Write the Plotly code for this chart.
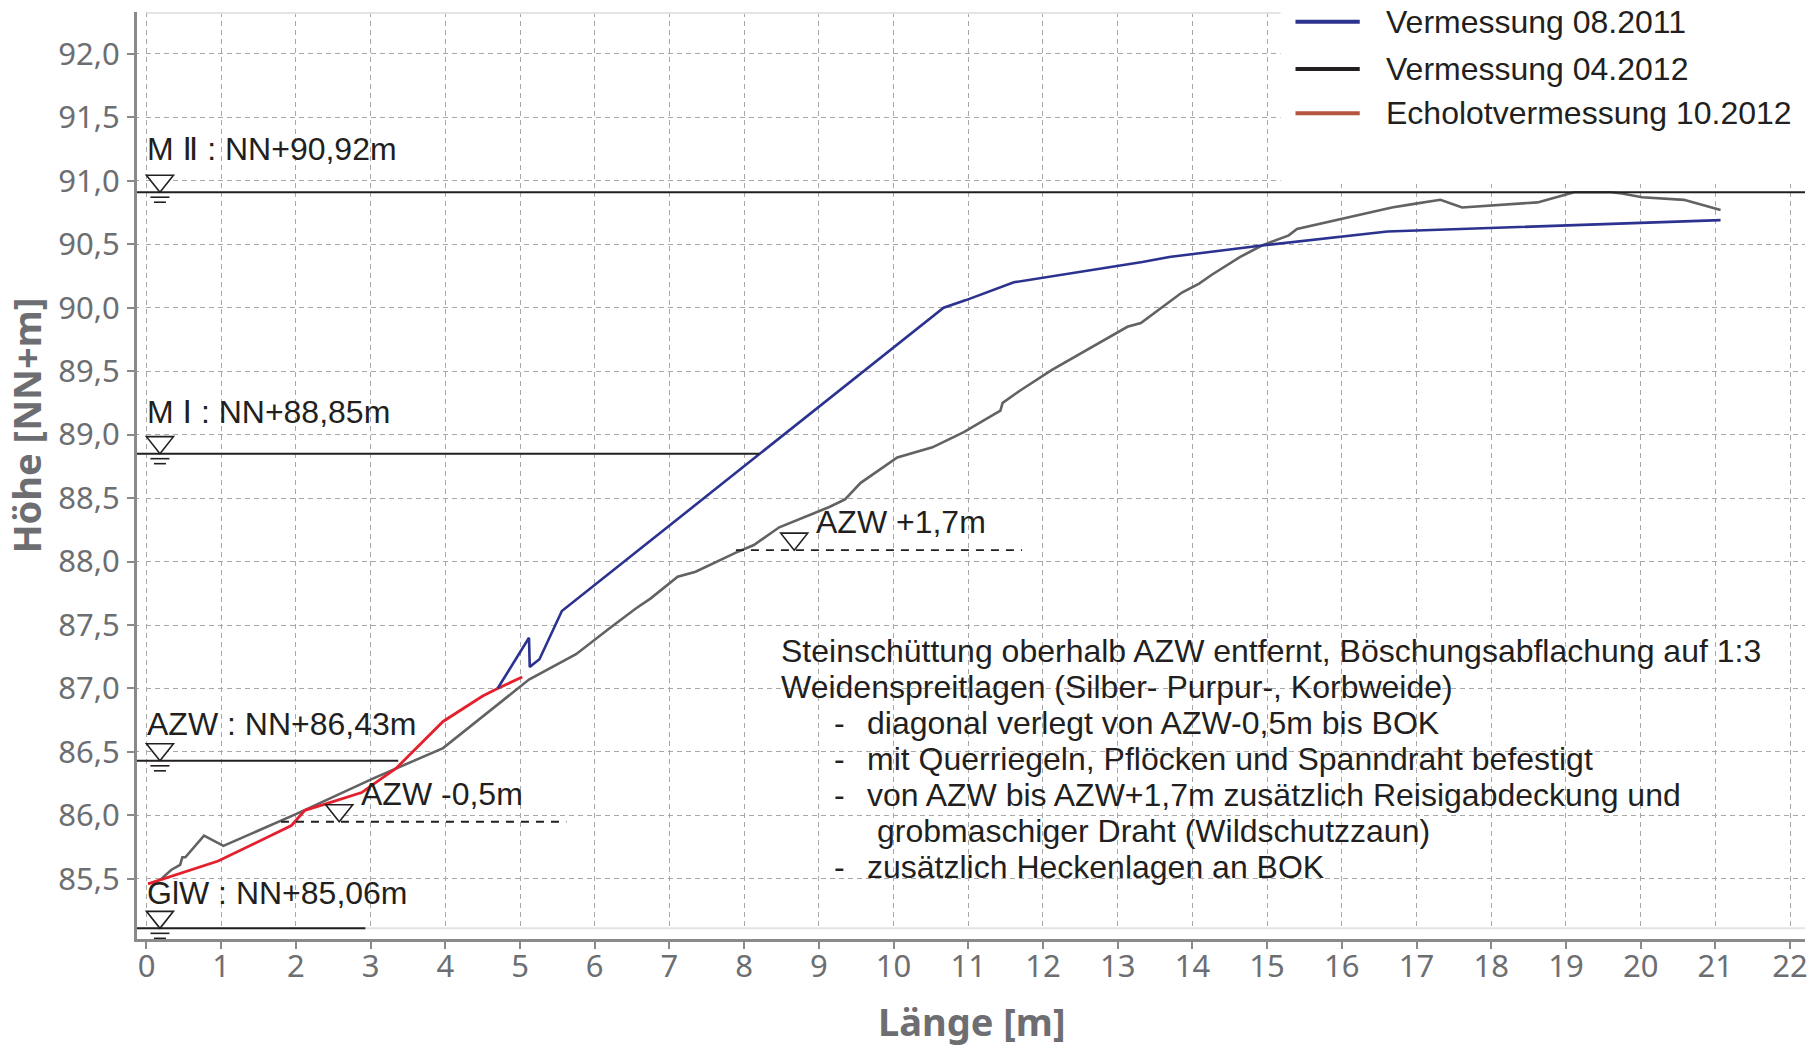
import plotly.graph_objects as go

# ---------------- data ----------------
x_2011 = [4.70, 5.12, 5.13, 5.26, 5.56, 10.67, 10.97, 11.61, 13.33, 13.69, 14.93, 15.82, 16.61, 21.07]
y_2011 = [87.00, 87.40, 87.17, 87.23, 87.61, 90.00, 90.06, 90.20, 90.36, 90.40, 90.49, 90.55, 90.60, 90.69]

x_2012 = [0.18, 0.33, 0.45, 0.48, 0.52, 0.77, 1.03, 2.00, 3.03, 3.97, 5.12, 5.75, 6.19, 6.55, 6.75,
          7.11, 7.35, 7.89, 8.13, 8.47, 9.14, 9.35, 9.56, 10.05, 10.52, 10.94, 11.43, 11.46, 11.70,
          12.12, 13.13, 13.31, 13.86, 14.09, 14.26, 14.64, 14.93, 15.29, 15.40, 16.00, 16.67, 16.99,
          17.32, 17.61, 18.15, 18.62, 19.11, 19.60, 19.75, 20.02, 20.58, 21.07]
y_2012 = [85.49, 85.57, 85.61, 85.67, 85.67, 85.84, 85.76, 86.01, 86.29, 86.53, 87.07, 87.27, 87.47, 87.63, 87.71,
          87.88, 87.92, 88.07, 88.13, 88.27, 88.43, 88.49, 88.62, 88.82, 88.90, 89.02, 89.19, 89.25, 89.35,
          89.51, 89.85, 89.88, 90.12, 90.19, 90.26, 90.40, 90.49, 90.57, 90.62, 90.70, 90.79, 90.82,
          90.85, 90.79, 90.81, 90.83, 90.91, 90.91, 90.90, 90.87, 90.85, 90.77]

x_echo = [0.02, 0.96, 1.94, 2.12, 2.40, 2.88, 3.12, 3.34, 3.97, 4.50, 4.70, 5.03]
y_echo = [85.46, 85.64, 85.92, 86.04, 86.09, 86.18, 86.28, 86.37, 86.74, 86.94, 87.00, 87.09]

series_names = ["Vermessung 08.2011", "Vermessung 04.2012", "Echolotvermessung 10.2012"]

x_ticks = list(range(0, 23))
x_ticktext = [str(v) for v in x_ticks]
y_ticks = [85.5, 86.0, 86.5, 87.0, 87.5, 88.0, 88.5, 89.0, 89.5, 90.0, 90.5, 91.0, 91.5, 92.0]
y_ticktext = ["85,5", "86,0", "86,5", "87,0", "87,5", "88,0", "88,5", "89,0", "89,5", "90,0",
              "90,5", "91,0", "91,5", "92,0"]

level_labels = ["M Ⅱ : NN+90,92m", "M Ⅰ : NN+88,85m", "AZW : NN+86,43m", "GlW : NN+85,06m"]
level_values = [90.91, 88.85, 86.43, 85.11]
level_ends = [22.2, 8.2, 3.37, 2.93]

offset_labels = ["AZW -0,5m", "AZW +1,7m"]
offset_values = [85.95, 88.09]
offset_starts = [1.80, 7.89]
offset_ends = [5.62, 11.72]

note_lines = [
    "Steinschüttung oberhalb AZW entfernt, Böschungsabflachung auf 1:3",
    "Weidenspreitlagen (Silber- Purpur-, Korbweide)",
    "diagonal verlegt von AZW-0,5m bis BOK",
    "mit Querriegeln, Pflöcken und Spanndraht befestigt",
    "von AZW bis AZW+1,7m zusätzlich Reisigabdeckung und",
    "grobmaschiger Draht (Wildschutzzaun)",
    "zusätzlich Heckenlagen an BOK",
]
note_bullet = [False, False, True, True, True, False, True]

# ---------------- layout constants ----------------
W, H = 1820, 1049
ML, MR, MT, MB = 137, 15, 12, 110
X_RANGE = [-0.127, 22.2]
Y_RANGE = [85.026, 92.33]
Y_INNER = 85.11
PW, PH = W - ML - MR, H - MT - MB
PX_X = (X_RANGE[1] - X_RANGE[0]) / PW
PX_Y = (Y_RANGE[1] - Y_RANGE[0]) / PH

C_BLUE = "#2b3290"
C_GREY = "#626262"
C_RED = "#e5202e"
C_INK = "#231f20"
C_AX = "#8a8a8a"
C_TICK = "#6d6e71"
TXT = "Liberation Sans, Arial, DejaVu Sans"
FS = 32

fig = go.Figure()
fig.add_trace(go.Scatter(x=x_2012, y=y_2012, mode="lines", name=series_names[1],
                         line=dict(color=C_GREY, width=2.6), showlegend=False))
fig.add_trace(go.Scatter(x=x_echo, y=y_echo, mode="lines", name=series_names[2],
                         line=dict(color=C_RED, width=2.8), showlegend=False))
fig.add_trace(go.Scatter(x=x_2011, y=y_2011, mode="lines", name=series_names[0],
                         line=dict(color=C_BLUE, width=2.6), showlegend=False))

shapes = []
annotations = []


def tri_path(xc, lvl):
    hw, h = 13.5 * PX_X, 17 * PX_Y
    return f"M {xc - hw},{lvl + h} L {xc + hw},{lvl + h} L {xc},{lvl} Z"


def water_symbol(xc, lvl, bars):
    shapes.append(dict(type="path", path=tri_path(xc, lvl), xref="x", yref="y",
                       line=dict(color=C_INK, width=1.6), fillcolor="white", layer="above"))
    if bars:
        for off, hw in ((5, 9.5), (10, 6.0)):
            shapes.append(dict(type="line", xref="x", yref="y",
                               x0=xc - hw * PX_X, x1=xc + hw * PX_X,
                               y0=lvl - off * PX_Y, y1=lvl - off * PX_Y,
                               line=dict(color=C_INK, width=1.6), layer="above"))


# white masks: grid starts at x=0 and stops at the inner plot bottom; legend area has no grid
shapes.append(dict(type="rect", xref="x", yref="y", x0=X_RANGE[0] + 2 * PX_X, x1=0 - 1 * PX_X,
                   y0=Y_RANGE[0] + 2 * PX_Y, y1=Y_RANGE[1], fillcolor="white", line=dict(width=0),
                   layer="between"))
shapes.append(dict(type="rect", xref="x", yref="y", x0=X_RANGE[0] + 2 * PX_X, x1=X_RANGE[1],
                   y0=Y_RANGE[0] + 2 * PX_Y, y1=Y_INNER, fillcolor="white", line=dict(width=0),
                   layer="between"))
shapes.append(dict(type="rect", xref="x", yref="y", x0=15.18, x1=X_RANGE[1], y0=90.975, y1=Y_RANGE[1],
                   fillcolor="white", line=dict(width=0), layer="between"))
# light frame lines of inner plot area
shapes.append(dict(type="line", xref="x", yref="y", x0=0, x1=15.18, y0=Y_RANGE[1] - 1 * PX_Y,
                   y1=Y_RANGE[1] - 1 * PX_Y, line=dict(color="#e4e4e4", width=2), layer="between"))
shapes.append(dict(type="line", xref="x", yref="y", x0=X_RANGE[0], x1=X_RANGE[1], y0=Y_INNER, y1=Y_INNER,
                   line=dict(color="#e4e4e4", width=2), layer="between"))

# water level lines, symbols, labels
label_dy = [0.34, 0.33, 0.29, 0.28]
for lab, lvl, xe, dy in zip(level_labels, level_values, level_ends, label_dy):
    shapes.append(dict(type="line", xref="x", yref="y", x0=X_RANGE[0], x1=xe, y0=lvl, y1=lvl,
                       line=dict(color=C_INK, width=2), layer="above"))
    water_symbol(0.18, lvl, True)
    annotations.append(dict(x=-0.02, y=lvl + dy, xref="x", yref="y", text=lab, showarrow=False,
                            xanchor="left", yanchor="middle", font=dict(family=TXT, size=FS, color=C_INK)))

# offset levels (dashed)
off_sym_x = [2.58, 8.67]
off_lab_x = [2.85, 8.94]
for lab, lvl, xs, xe, sx, lx in zip(offset_labels, offset_values, offset_starts, offset_ends, off_sym_x, off_lab_x):
    shapes.append(dict(type="line", xref="x", yref="y", x0=xs, x1=xe, y0=lvl, y1=lvl,
                       line=dict(color=C_INK, width=1.8, dash="8px,7px"), layer="above"))
    water_symbol(sx, lvl, False)
    annotations.append(dict(x=lx, y=lvl + 0.22, xref="x", yref="y", text=lab, showarrow=False,
                            xanchor="left", yanchor="middle", font=dict(family=TXT, size=FS, color=C_INK)))

# note block
note_y0 = 87.292
note_step = 0.2835
for i, (line, bullet) in enumerate(zip(note_lines, note_bullet)):
    yv = note_y0 - i * note_step
    if i < 2:
        xv = 8.476
    elif bullet:
        xv = 9.628
    else:
        xv = 9.762
    if bullet:
        annotations.append(dict(x=9.186, y=yv, xref="x", yref="y", text="-", showarrow=False,
                                xanchor="left", yanchor="middle", borderpad=0,
                                font=dict(family=TXT, size=FS, color=C_INK)))
    annotations.append(dict(x=xv, y=yv, xref="x", yref="y", text=line, showarrow=False,
                            xanchor="left", yanchor="middle", borderpad=0,
                            font=dict(family=TXT, size=FS, color=C_INK)))

# manual legend
leg_colors = [C_BLUE, "#231f20", "#b5543f"]
leg_y = [92.254, 91.88, 91.533]
for name, col, yv in zip(series_names, leg_colors, leg_y):
    shapes.append(dict(type="line", xref="x", yref="y", x0=15.38, x1=16.24, y0=yv, y1=yv,
                       line=dict(color=col, width=4), layer="above"))
    annotations.append(dict(x=16.56, y=yv, xref="x", yref="y", text=name, showarrow=False,
                            xanchor="left", yanchor="middle", font=dict(family=TXT, size=FS, color=C_INK)))

# axis titles
annotations.append(dict(x=(25.5 - ML) / PW, y=(H - MB - 426) / PH, xref="paper", yref="paper",
                        text="<b>Höhe [NN+m]</b>", showarrow=False, textangle=-90,
                        xanchor="center", yanchor="middle",
                        font=dict(family="Noto Sans", size=38, color=C_TICK)))
annotations.append(dict(x=(972 - ML) / PW, y=(H - MB - 1021) / PH, xref="paper", yref="paper",
                        text="<b>Länge [m]</b>", showarrow=False,
                        xanchor="center", yanchor="middle",
                        font=dict(family="Noto Sans", size=38, color=C_TICK)))

fig.update_layout(
    width=W, height=H,
    margin=dict(l=ML, r=MR, t=MT, b=MB, pad=0),
    paper_bgcolor="white", plot_bgcolor="white",
    showlegend=False,
    shapes=shapes, annotations=annotations,
    xaxis=dict(range=X_RANGE, tickvals=x_ticks, ticktext=x_ticktext, showgrid=True,
               gridcolor="#a8a8a8", gridwidth=1.2, griddash="5px,4px", zeroline=False,
               showline=True, linecolor=C_AX, linewidth=3, ticks="outside", ticklen=7,
               tickwidth=2, tickcolor=C_AX, ticklabelstandoff=-9,
               tickfont=dict(family="Noto Sans", size=31, color=C_TICK)),
    yaxis=dict(range=Y_RANGE, tickvals=y_ticks, ticktext=y_ticktext, showgrid=True,
               gridcolor="#a8a8a8", gridwidth=1.2, griddash="5px,4px", zeroline=False,
               showline=True, linecolor=C_AX, linewidth=3, ticks="outside", ticklen=7,
               tickwidth=2, tickcolor=C_AX, ticklabelstandoff=1,
               tickfont=dict(family="Noto Sans", size=31, color=C_TICK)),
)

fig.write_html("out.html", config={"displayModeBar": False},
               post_script="document.body.style.margin='0';document.body.style.overflow='hidden';")
